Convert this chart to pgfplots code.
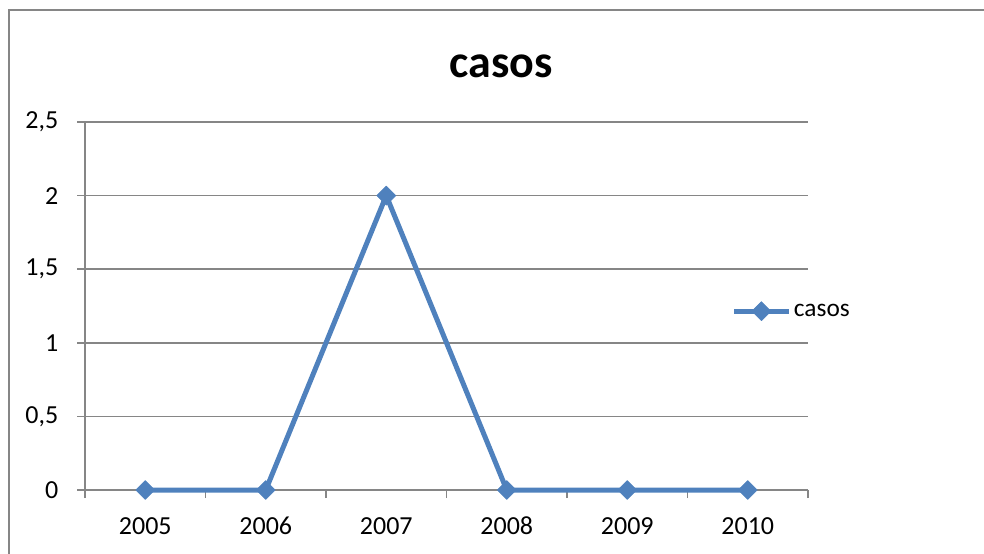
\documentclass[border=0pt]{standalone}
\usepackage{pgfplots}
\pgfplotsset{compat=1.18}
\usepackage{fontspec}
\setmainfont{Carlito}
\definecolor{ser}{HTML}{4F81BD}
\definecolor{gridc}{HTML}{868686}
\begin{document}
\begin{tikzpicture}[x=1pt,y=1pt]
\useasboundingbox (0,0) rectangle (738,414.75);
\draw[gridc, line width=1.3pt] (6.75,-2) -- (6.75,407.25) -- (740,407.25);
\begin{axis}[
 at={(63.75pt,47.25pt)}, anchor=south west,
 scale only axis, width=542.25pt, height=276pt,
 xmin=0, xmax=6, ymin=0, ymax=2.5,
 axis x line*=bottom, axis y line*=left,
 axis line style={gridc, line width=1.1pt},
 tick align=outside, major tick length=6pt,
 tick style={gridc, line width=1.1pt},
 ymajorgrids, grid style={gridc, line width=1.1pt},
 ytick={0,0.5,1,1.5,2,2.5},
 yticklabels={0,{0,5},1,{1,5},2,{2,5}},
 xtick={0,1,2,3,4,5,6}, xticklabels={},
 extra x ticks={0.5,1.5,2.5,3.5,4.5,5.5},
 extra x tick labels={2005,2006,2007,2008,2009,2010},
 extra x tick style={tick style={draw=none}},
 /pgf/number format/assume math mode=true,
 every tick label/.append style={font=\fontsize{19.5}{22}\selectfont},
 yticklabel style={xshift=-10.5pt},
 xticklabel style={text height=13pt, text depth=0pt, yshift=-10.5pt},
 clip=false,
 legend style={at={(0.894,0.486)}, anchor=west, draw=none, fill=none, inner sep=0pt,
   font=\fontsize{19}{22}\selectfont, nodes={inner sep=2pt}},
 legend image code/.code={\draw[#1, mark repeat=2, mark phase=2] plot coordinates {(0pt,0pt) (20.5pt,0pt) (41pt,0pt)};},
]
\addplot[color=ser, line width=3.75pt, line join=round, mark=square*, mark size=5pt,
  mark options={rotate=45, solid, line width=0.5pt, fill=ser}]
  coordinates {(0.5,0) (1.5,0) (2.5,2) (3.5,0) (4.5,0) (5.5,0)};
\addlegendentry{casos}
\end{axis}
\node[anchor=base, font=\fontsize{34.5}{40}\selectfont\bfseries] at (375.75,356.25) {casos};
\end{tikzpicture}
\end{document}
